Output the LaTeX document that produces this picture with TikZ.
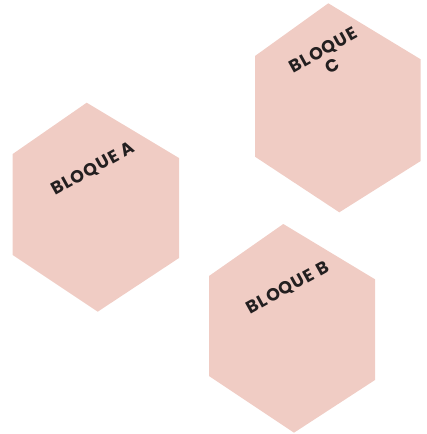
\documentclass[tikz,border=0pt]{standalone}
\usepackage{fontspec}
\newfontfamily\bloquefont[LetterSpace=6]{Poppins}
\definecolor{hexpink}{HTML}{F0CCC4}
\definecolor{lbltext}{HTML}{231F20}
\begin{document}
\begin{tikzpicture}[x=1pt,y=-1pt]
    \tikzstyle{hex}=[fill=hexpink]
    \tikzstyle{lbl}=[font=\bloquefont\bfseries\fontsize{17.5}{19}\selectfont, text=lbltext, rotate=29, align=center, inner sep=0pt]
    \useasboundingbox (0,0) rectangle (426,434);
    % bloque A
    \fill[hex] (86.7,102.7) -- (179,158) -- (179,258) -- (97.7,311.7) -- (12.7,255) -- (12.7,154) -- cycle;
    \node[lbl] (bloqueA) at (93,169) {BLOQUE A};
    % bloque C
    \fill[hex] (328.3,3.3) -- (420.7,59.3) -- (420.7,161) -- (339.3,212.3) -- (255,156.7) -- (255,56) -- cycle;
    \node[lbl] (bloqueC) at (328,58) {BLOQUE\\C};
    % bloque B
    \fill[hex] (283.3,224) -- (375,279.3) -- (375,380) -- (294,432.7) -- (209,376) -- (209,276) -- cycle;
    \node[lbl] (bloqueB) at (288,288) {BLOQUE B};
  \end{tikzpicture}
\end{document}
